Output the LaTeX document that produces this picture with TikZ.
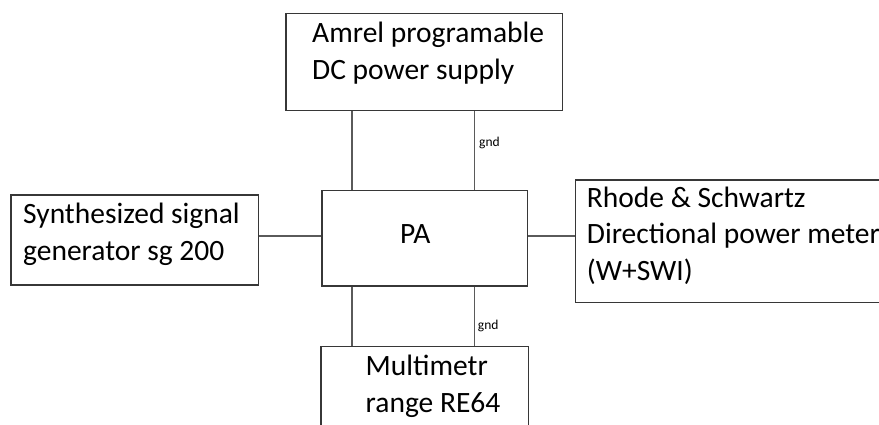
\documentclass[tikz,border=0pt]{standalone}
\usepackage{fontspec}
\setmainfont{Carlito}
\usepackage{xcolor}
\definecolor{boxgray}{RGB}{55,55,55}
\definecolor{wiregray}{RGB}{90,90,90}
\usepackage{tikz}
\usetikzlibrary{calc,positioning}

\begin{document}
\begin{tikzpicture}[x=1pt,y=-1pt,
    unit/.style={draw=boxgray,line width=1.4pt,rectangle,inner sep=0pt},
    wire/.style={draw=wiregray,line width=1.6pt},
    lbl/.style={anchor=base west,align=left,inner sep=0pt,font={\fontsize{29.5}{36.5}\selectfont}},
    gndlbl/.style={anchor=base west,inner sep=0pt,font={\fontsize{13.5}{16}\selectfont}}]
    \clip (0,0) rectangle (879,425);
    \fill[white] (0,0) rectangle (879,425);
    % boxes
    \node[unit,minimum width=276.5,minimum height=97.4] (amrel) at (424.2,62) {};
    \node[unit,minimum width=205.5,minimum height=95.3] (pa) at (424.75,238.3) {};
    \node[unit,minimum width=247.3,minimum height=90] (synth) at (134.6,240) {};
    \node[unit,minimum width=324.3,minimum height=122.3] (rhode) at (737.9,241.1) {};
    \node[unit,minimum width=207.3,minimum height=103.3] (multi) at (424.6,398.4) {};
    % texts (base = last line)
    \node[lbl] (amrelT) at (312,79.3) {Amrel programable\\DC power supply};
    \node[lbl] (synthT) at (23,260.5) {Synthesized signal\\generator sg 200};
    \node[lbl] (rhodeT) at (586.7,280) {Rhode \& Schwartz\\Directional power meter\\(W+SWI)};
    \node[lbl] (paT) at (400,243.3) {PA};
    \node[lbl] (multiT) at (365.5,412) {Multimetr\\range RE64};
    % connectors
    \draw[wire] ([xshift=-72.7pt]pa.north) -- ([xshift=-72.7pt]pa.north |- amrel.south);
    \draw[wire] ([xshift=49.8pt]pa.north) -- ([xshift=49.8pt]pa.north |- amrel.south);
    \draw[wire] ([xshift=-72.7pt]pa.south) -- ([xshift=-72.7pt]pa.south |- multi.north);
    \draw[wire] ([xshift=49.8pt]pa.south) -- ([xshift=49.8pt]pa.south |- multi.north);
    \draw[wire] ([yshift=2.3pt]pa.west) -- ([yshift=2.3pt]pa.west -| synth.east);
    \draw[wire] ([yshift=2.5pt]pa.east) -- ([yshift=2.5pt]pa.east -| rhode.west);
    \node[gndlbl] (gndtop) at (479,147) {gnd};
    \node[gndlbl] (gndbot) at (477.7,329) {gnd};
\end{tikzpicture}
\end{document}
